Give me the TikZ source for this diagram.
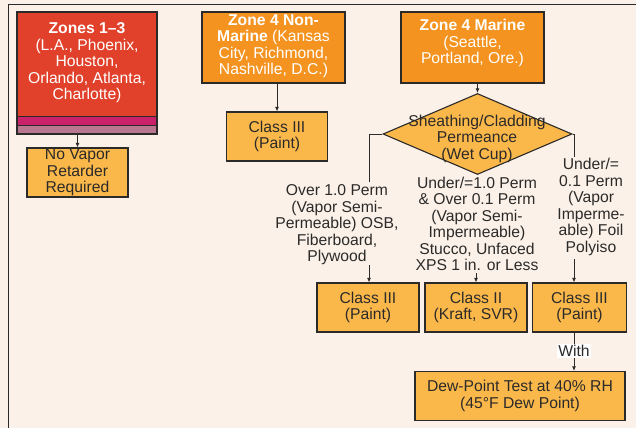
\documentclass[tikz,border=0pt]{standalone}
\usepackage{fontspec}
\setmainfont{Liberation Sans}
\usetikzlibrary{shapes.geometric,arrows.meta}
\definecolor{bgc}{HTML}{FBF1E8}
\definecolor{zred}{HTML}{E1412A}
\definecolor{zmag}{HTML}{C9216A}
\definecolor{zpink}{HTML}{B9778F}
\definecolor{zorange}{HTML}{F4931F}
\definecolor{lorange}{HTML}{FBB84A}
\definecolor{ink}{HTML}{2B2A29}
\begin{document}
\begin{tikzpicture}[x=1pt,y=-1pt,
  font=\fontsize{15.7}{16.5}\selectfont,
  every node/.style={text=ink, align=center, inner sep=0pt},
  box/.style={draw=ink, line width=1.1pt, fill=lorange},
  zbox/.style={draw=ink, line width=1.1pt, fill=zorange},
  wt/.style={text=white},
  conn/.style={draw=ink, line width=1pt},
  arr/.style={conn, -{Latex[length=4.5pt,width=4pt]}}]
\useasboundingbox[fill=bgc] (0,0) rectangle (636,428);
\draw[conn] (8,428) -- (8,5) -- (636,5);

% Zones 1-3
\node[draw=ink, line width=1.1pt, fill=zred, minimum width=140pt, minimum height=122pt,
  path picture={
    \fill[zmag] ([yshift=18pt]path picture bounding box.south west) rectangle ([yshift=9pt]path picture bounding box.south east);
    \fill[zpink] ([yshift=9pt]path picture bounding box.south west) rectangle (path picture bounding box.south east);
    \draw[ink, line width=0.8pt] ([yshift=18pt]path picture bounding box.south west) -- ([yshift=18pt]path picture bounding box.south east);
    \draw[ink, line width=0.8pt] ([yshift=9pt]path picture bounding box.south west) -- ([yshift=9pt]path picture bounding box.south east);
  }] (z13) at (87,73) {};
\node[wt] (z13t) at (87,63) {\textbf{Zones 1–3}\\(L.A., Phoenix,\\Houston,\\Orlando, Atlanta,\\Charlotte)};
\node[box, minimum width=101pt, minimum height=49pt] (nv) at (77.5,172.5) {No Vapor\\Retarder\\Required};

% Zone 4 Non-Marine
\node[zbox, minimum width=143pt, minimum height=71pt] (nm) at (273.5,47.5) {};
\node[wt] (nmt) at (273.5,46) {\textbf{Zone 4 Non-}\\\textbf{Marine} (Kansas\\City, Richmond,\\Nashville, D.C.)};
\node[box, minimum width=101pt, minimum height=49pt] (c3a) at (277,136.5) {Class III\\(Paint)};

% Zone 4 Marine
\node[zbox, minimum width=143pt, minimum height=71pt] (mr) at (472.5,47.5) {};
\node[wt] (mrt) at (472.5,43) {\textbf{Zone 4 Marine}\\(Seattle,\\Portland, Ore.)};

% Diamond
\node[diamond, draw=ink, line width=1.1pt, fill=lorange, minimum width=189pt, minimum height=81pt] (dia) at (477.5,134) {};
\node (diat) at (477,138.5) {Sheathing/Cladding\\Permeance\\(Wet Cup)};

% Branch texts
\node (lt) at (337,225) {Over 1.0 Perm\\(Vapor Semi-\\Permeable) OSB,\\Fiberboard,\\Plywood};
\node (mt) at (477,224) {Under/=1.0 Perm\\\& Over 0.1 Perm\\(Vapor Semi-\\Impermeable)\\Stucco, Unfaced\\XPS 1 in. or Less};
\node (rt) at (591,207) {Under/=\\0.1 Perm\\(Vapor\\Imperme-\\able) Foil\\Polyiso};

% Bottom boxes
\node[box, minimum width=102pt, minimum height=49pt] (b1) at (368,307.5) {Class III\\(Paint)};
\node[box, minimum width=102pt, minimum height=49pt] (b2) at (476,307.5) {Class II\\(Kraft, SVR)};
\node[box, minimum width=94pt, minimum height=49pt] (b3) at (579.5,307.5) {Class III\\(Paint)};
\node[box, minimum width=210pt, minimum height=49pt] (dew) at (520,396) {Dew-Point Test at 40\% RH\\(45°F Dew Point)};

% coordinates
\coordinate (l1) at (369,182);
\coordinate (l2) at (369,265);
\coordinate (m2) at (476,273);
\coordinate (r1) at (574,157);
\coordinate (r2) at (574,259);
\coordinate (wx) at (574,351);

% connectors
\draw[arr] (z13.south -| nv.north) -- (nv.north);
\draw[arr] (nm.south -| c3a.north) -- (c3a.north);
\draw[arr] (mr.south -| dia.north) -- (dia.north);
\draw[conn] (dia.west) -| (l1);
\draw[conn] (dia.east) -| (r1);
\draw[arr] (l2) -- (l2 |- b1.north);
\draw[arr] (m2) -- (m2 |- b2.north);
\draw[arr] (r2) -- (r2 |- b3.north);
\draw[arr] (wx |- b3.south) -- (wx |- dew.north);
\node[fill=white, inner xsep=1pt, inner ysep=1.5pt] (with) at (wx) {With};
\end{tikzpicture}
\end{document}
